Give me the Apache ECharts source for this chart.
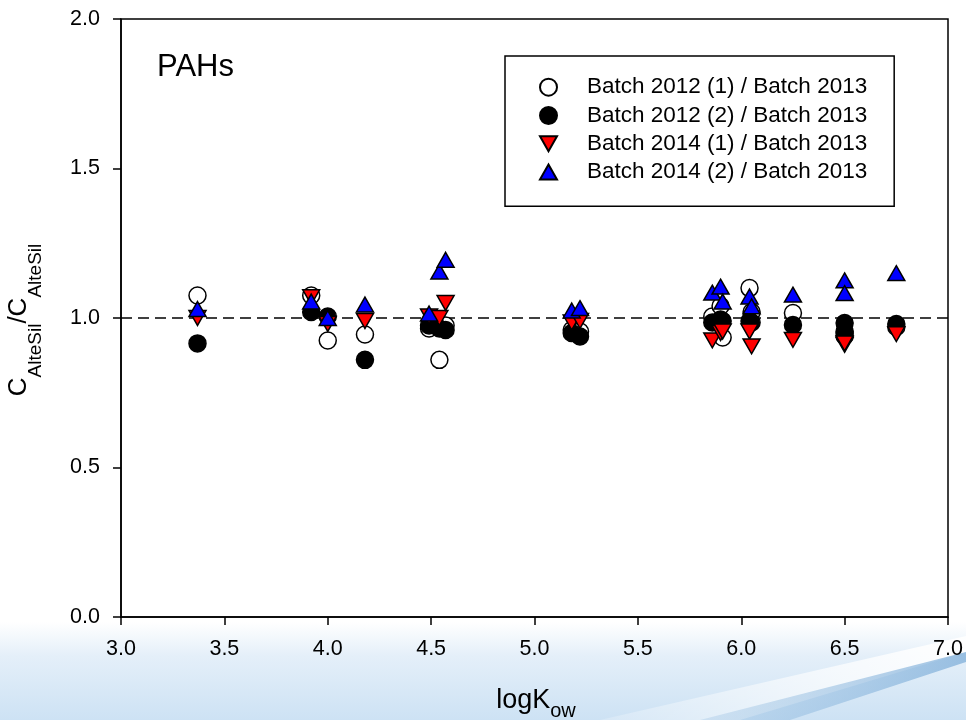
<!DOCTYPE html>
<html>
<head>
<meta charset="utf-8">
<script src="https://cdn.jsdelivr.net/npm/echarts@6/dist/echarts.min.js"></script>
<style>
  html, body { margin: 0; padding: 0; background: #fff; }
  #chart { width: 966px; height: 720px; }
</style>
</head>
<body>
<div id="chart"></div>
<script>
// ---- data ----
const logKow     = [3.37, 3.92, 4.00, 4.18, 4.49, 4.54, 4.57, 5.18, 5.22, 5.86, 5.90, 5.91, 6.04, 6.05, 6.25, 6.50, 6.50, 6.75];
const b2012_1    = [1.075, 1.075, 0.925, 0.945, 0.965, 0.860, 0.975, 0.960, 0.955, 1.005, 1.040, 0.935, 1.100, 1.020, 1.017, 0.950, 0.940, 0.970];
const b2012_2    = [0.915, 1.020, 1.005, 0.860, 0.975, 0.965, 0.960, 0.950, 0.938, 0.985, 0.995, 0.990, 0.990, 0.985, 0.977, 0.983, 0.955, 0.980];
const b2014_1    = [1.000, 1.070, 0.980, 0.990, 1.005, 1.000, 1.050, 0.985, 0.990, 0.925, 0.950, 0.955, 0.955, 0.905, 0.927, 0.910, 0.915, 0.946];
const b2014_2    = [1.030, 1.055, 1.000, 1.045, 1.015, 1.155, 1.195, 1.025, 1.033, 1.085, 1.105, 1.055, 1.072, 1.039, 1.078, 1.126, 1.083, 1.150];
const seriesNames = ['Batch 2012 (1) / Batch 2013', 'Batch 2012 (2) / Batch 2013', 'Batch 2014 (1) / Batch 2013', 'Batch 2014 (2) / Batch 2013'];
const xTicks = { min: 3.0, max: 7.0, step: 0.5 };
const yTicks = { min: 0.0, max: 2.0, step: 0.5 };
const refLine = 1.0;
const panelLabel = 'PAHs';
const xTitleParts = [['logK', 'main'], ['ow', 'sub']];
const yTitleParts = [['C', 'main'], ['AlteSil', 'sub'], ['/C', 'main'], ['AlteSil', 'sub']];

const FONT = '"Liberation Sans", Arial, sans-serif';
const pts = arr => logKow.map((x, i) => [x, arr[i]]);

const TRI_UP = 'path://M1,0L2,1.75L0,1.75Z';
const TRI_DOWN = 'path://M0,0L2,0L1,1.75Z';

// text measuring for subscript layout
const measureCtx = document.createElement('canvas').getContext('2d');
function textW(str, size) {
  measureCtx.font = size + 'px ' + FONT;
  return measureCtx.measureText(str).width;
}
function subscriptRow(parts, mainSize, subSize, mainBase, subBase) {
  const widths = parts.map(p => textW(p[0], p[1] === 'main' ? mainSize : subSize));
  const total = widths.reduce((a, b) => a + b, 0);
  let x = -total / 2;
  return parts.map((p, i) => {
    const size = p[1] === 'main' ? mainSize : subSize;
    const base = p[1] === 'main' ? mainBase : subBase;
    const el = {
      type: 'text', silent: true,
      x: x, y: base - 0.35 * size,
      style: { text: p[0], font: size + 'px ' + FONT, fill: '#000', align: 'left', verticalAlign: 'middle' }
    };
    x += widths[i];
    return el;
  });
}

const mk = (name, arr, symbol, fill, extra) => Object.assign({
  name: name,
  type: 'scatter',
  data: pts(arr),
  symbol: symbol,
  symbolSize: 17,
  symbolKeepAspect: true,
  itemStyle: { color: fill, borderColor: '#000', borderWidth: 1.5, opacity: 1 },
  emphasis: { disabled: true },
  z: 3
}, extra || {});

const chart = echarts.init(document.getElementById('chart'), null, { renderer: 'canvas' });

chart.setOption({
  animation: false,
  backgroundColor: '#ffffff',
  textStyle: { fontFamily: FONT },
  graphic: [
    {
      type: 'rect', z: -10, silent: true,
      shape: { x: 0, y: 622, width: 966, height: 98 },
      style: {
        fill: new echarts.graphic.LinearGradient(0, 0, 0, 1, [
          { offset: 0, color: 'rgba(255,255,255,1)' },
          { offset: 0.35, color: 'rgba(228,239,249,1)' },
          { offset: 1, color: 'rgba(205,226,244,1)' }
        ])
      }
    },
    {
      type: 'polygon', z: -9, silent: true,
      shape: { points: [[600, 720], [966, 636], [966, 652], [740, 720]] },
      style: {
        fill: new echarts.graphic.LinearGradient(0, 0, 1, 0, [
          { offset: 0, color: 'rgba(255,255,255,0.2)' },
          { offset: 1, color: 'rgba(255,255,255,0.95)' }
        ])
      }
    },
    {
      type: 'polygon', z: -9, silent: true,
      shape: { points: [[700, 720], [966, 652], [966, 662], [790, 720]] },
      style: {
        fill: new echarts.graphic.LinearGradient(0, 0, 1, 0, [
          { offset: 0, color: 'rgba(150,190,225,0.3)' },
          { offset: 1, color: 'rgba(120,170,215,0.7)' }
        ])
      }
    },
    {
      type: 'text', z: 10, silent: true,
      x: 157, y: 67,
      style: { text: panelLabel, font: '31px ' + FONT, fill: '#000', align: 'left', verticalAlign: 'middle' }
    },
    {
      type: 'group', z: 10, silent: true,
      x: 536, y: 0,
      children: subscriptRow(xTitleParts, 27, 20, 710, 718)
    },
    {
      type: 'group', z: 10, silent: true,
      x: 0, y: 320, rotation: Math.PI / 2,
      children: subscriptRow(yTitleParts, 26, 19, 28, 42)
    }
  ],
  grid: {
    left: 121, right: 18, top: 19, bottom: 103,
    show: true, borderColor: '#000', borderWidth: 1.5, backgroundColor: 'transparent'
  },
  legend: {
    orient: 'vertical',
    left: 505, top: 56,
    padding: [17, 27, 20, 34],
    itemGap: 0,
    itemWidth: 17, itemHeight: 17,
    borderColor: '#000', borderWidth: 1.5, borderRadius: 0,
    backgroundColor: '#fff',
    selectedMode: false,
    textStyle: { fontSize: 22.5, fontFamily: FONT, color: '#000', lineHeight: 28.3, padding: [0, 0, 0, 25] },
    data: seriesNames
  },
  xAxis: {
    type: 'value',
    min: xTicks.min, max: xTicks.max, interval: xTicks.step,
    axisLine: { show: true, onZero: false, lineStyle: { color: '#000', width: 1.5 } },
    axisTick: { show: true, inside: false, length: 8, lineStyle: { color: '#000', width: 1.5 } },
    axisLabel: { fontSize: 21.5, color: '#000', fontFamily: FONT, margin: 21, formatter: v => v.toFixed(1) },
    splitLine: { show: false }
  },
  yAxis: {
    type: 'value',
    min: yTicks.min, max: yTicks.max, interval: yTicks.step,
    axisLine: { show: true, onZero: false, lineStyle: { color: '#000', width: 1.5 } },
    axisTick: { show: true, inside: false, length: 8, lineStyle: { color: '#000', width: 1.5 } },
    axisLabel: { fontSize: 21.5, color: '#000', fontFamily: FONT, margin: 21, formatter: v => v.toFixed(1) },
    splitLine: { show: false }
  },
  series: [
    mk(seriesNames[0], b2012_1, 'circle', '#ffffff', {
      markLine: {
        silent: true, symbol: ['none', 'none'], label: { show: false },
        lineStyle: { color: '#000', width: 1.5, type: [11, 6] },
        data: [{ yAxis: refLine }],
        z: 1
      }
    }),
    mk(seriesNames[1], b2012_2, 'circle', '#000000'),
    mk(seriesNames[2], b2014_1, TRI_DOWN, '#ff0000'),
    mk(seriesNames[3], b2014_2, TRI_UP, '#0000ff')
  ]
});
</script>
</body>
</html>
